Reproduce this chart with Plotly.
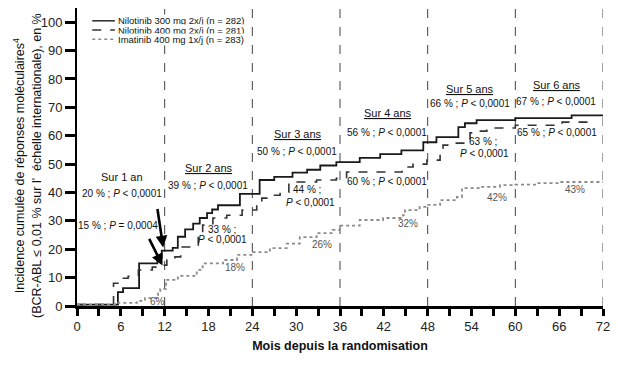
import plotly.graph_objects as go

# ---- data ----
nil300_months = [0, 5.6, 6.3, 8.5, 11.0, 11.6, 13.1, 13.8, 14.8, 15.9, 16.8, 17.8, 18.5, 19.3, 22.3,
                 25.0, 27.0, 29.5, 31.5, 33.3, 35.5, 38.7, 41.5, 44.4, 47.4, 49.2, 52.2, 53.1, 54.7,
                 60.0, 67.7, 72.0]
nil300_values = [0.5, 4.9, 6.3, 15.0, 17.0, 19.5, 20.5, 24.4, 27.0, 29.0, 31.0, 32.7, 34.0, 35.5, 39.5,
                 44.4, 45.5, 47.0, 48.0, 49.5, 50.7, 52.2, 53.5, 54.8, 57.7, 59.5, 63.0, 64.4, 65.5,
                 66.2, 67.2, 67.2]

nil400_months = [0, 5.0, 5.6, 7.0, 8.4, 10.3, 11.1, 12.3, 13.4, 14.2, 16.6, 17.2, 18.6, 20.5, 22.6,
                 24.6, 25.3, 26.4, 27.8, 29.0, 32.8, 35.5, 36.9, 44.5, 46.0, 47.9, 49.7, 50.1, 51.7,
                 53.8, 54.2, 56.1, 60.0, 66.4, 70.5]
nil400_values = [0.5, 8.0, 9.8, 10.5, 12.7, 13.7, 14.4, 16.2, 17.3, 20.8, 24.5, 28.5, 31.0, 32.0, 33.8,
                 36.3, 38.0, 39.0, 40.1, 43.7, 44.4, 45.0, 47.2, 49.0, 50.0, 51.4, 55.6, 56.7, 57.4,
                 61.0, 61.6, 62.7, 63.7, 64.8, 64.8]

ima_months = [0, 5.5, 8.2, 9.3, 11.1, 11.4, 12.2, 13.8, 16.4, 17.2, 20.0, 21.9, 24.1, 26.4, 28.7,
              30.5, 32.8, 35.0, 36.0, 38.7, 41.9, 44.6, 44.9, 46.9, 47.9, 49.7, 52.0, 52.7, 55.2,
              57.9, 60.0, 63.0, 66.0, 72.0]
ima_values = [0.5, 1.1, 1.8, 2.8, 4.9, 6.0, 9.2, 10.6, 12.7, 15.0, 16.2, 18.0, 19.0, 20.4, 22.0,
              24.3, 25.7, 26.8, 28.3, 30.3, 31.0, 32.0, 33.8, 34.9, 35.6, 37.3, 38.4, 41.5, 42.0,
              42.6, 42.8, 43.3, 43.7, 43.7]

series_names = ["Nilotinib 300 mg 2x/j (n = 282)",
                "Nilotinib 400 mg 2x/j (n = 281)",
                "Imatinib 400 mg 1x/j (n = 283)"]

year_lines = [12, 24, 36, 48, 60, 72]
x_ticks = list(range(0, 73, 6))
y_ticks = list(range(0, 101, 10))

FONT = "Liberation Sans, Arial, sans-serif"

styles = [dict(color="#1a1a1a", width=1.8, dash="solid"),
          dict(color="#333333", width=1.6, dash="dash"),
          dict(color="#8a8a8a", width=1.8, dash="dot")]

fig = go.Figure()
for (mx, vy), name, st in zip([(nil300_months, nil300_values),
                                (nil400_months, nil400_values),
                                (ima_months, ima_values)], series_names, styles):
    fig.add_trace(go.Scatter(x=mx, y=vy, mode="lines", name=name, line=st,
                             line_shape="hv", showlegend=False, hoverinfo="skip"))

shapes = []
for xl in year_lines:
    shapes.append(dict(type="line", xref="x", yref="paper", x0=xl, x1=xl, y0=0, y1=1,
                       line=dict(color="#444444", width=1, dash="dash"), layer="below"))

# manual legend
leg_rows = [0.957, 0.926, 0.895]
annotations = []
for name, st, yy in zip(series_names, styles, leg_rows):
    shapes.append(dict(type="line", xref="paper", yref="paper", x0=0.029, x1=0.072, y0=yy, y1=yy,
                       line=dict(color=st["color"], width=1.4, dash=st["dash"])))
    annotations.append(dict(xref="paper", yref="paper", x=0.076, y=yy, text=name, showarrow=False,
                            xanchor="left", yanchor="middle", bgcolor="white", borderpad=0,
                            font=dict(size=9.5, color="#111", family=FONT)))

def txt(x, y, t, size=10, color="#111", underline=False):
    f = dict(size=size, color=color, family=FONT)
    if underline:
        f["lineposition"] = "under"
    annotations.append(dict(x=x, y=y, xref="x", yref="y", text=t, showarrow=False,
                            xanchor="center", yanchor="middle", font=f))

txt(6.16, 45.5, "Sur 1 an", 11)
txt(6.16, 39.8, "20 % ; <i>P</i> < 0,0001")
txt(5.61, 28.2, "15 % ; <i>P</i> = 0,0004")
txt(18.07, 48.6, "Sur 2 ans", 11, underline=True)
txt(17.93, 42.6, "39 % ; <i>P</i> < 0,0001")
txt(19.85, 27.1, "33 % ;")
txt(19.98, 23.3, "<i>P</i> < 0,0001")
txt(21.6, 13.7, "18%", 10, "#555")
txt(10.95, 1.6, "6%", 10, "#555")
txt(30.25, 60.6, "Sur 3 ans", 11, underline=True)
txt(30.1, 54.6, "50 % ; <i>P</i> < 0,0001")
txt(31.5, 40.9, "44 % ;")
txt(31.9, 36.6, "<i>P</i> < 0,0001")
txt(33.5, 21.5, "26%", 10, "#555")
txt(42.57, 68.0, "Sur 4 ans", 11, underline=True)
txt(42.43, 61.0, "56 % ; <i>P</i> < 0,0001")
txt(42.43, 44.0, "60 % ; <i>P</i> < 0,0001")
txt(45.3, 28.9, "32%", 10, "#555")
txt(53.8, 76.5, "Sur 5 ans", 11, underline=True)
txt(53.8, 71.2, "66 % ; <i>P</i> < 0,0001")
txt(55.57, 58.1, "63 % ;")
txt(55.84, 53.9, "<i>P</i> < 0,0001")
txt(57.5, 38.4, "42%", 10, "#555")
txt(65.7, 77.9, "Sur 6 ans", 11, underline=True)
txt(65.56, 72.2, "67 % ; <i>P</i> < 0,0001")
txt(65.7, 61.0, "65 % ; <i>P</i> < 0,0001")
txt(68.2, 41.2, "43%", 10, "#555")

# arrows
annotations.append(dict(x=11.8, y=20.6, xref="x", yref="y", ax=-6, ay=-40, axref="pixel", ayref="pixel",
                        showarrow=True, arrowhead=2, arrowsize=0.9, arrowwidth=2.6, arrowcolor="#000", text=""))
annotations.append(dict(x=11.7, y=14.3, xref="x", yref="y", ax=-14, ay=-28, axref="pixel", ayref="pixel",
                        showarrow=True, arrowhead=2, arrowsize=0.9, arrowwidth=2.6, arrowcolor="#000", text=""))

# y-axis title
annotations.append(dict(xref="paper", yref="paper", x=-0.093, y=0.47, xanchor="center", yanchor="middle",
                        textangle=-90, showarrow=False,
                        text="Incidence cumulée de réponses moléculaires<sup>4</sup><br>(BCR-ABL ≤ 0,01 % sur l'  échelle internationale), en %",
                        font=dict(size=12.5, color="#111", family=FONT)))

fig.update_layout(
    width=618, height=365,
    margin=dict(l=77, r=15, t=8, b=59),
    paper_bgcolor="white", plot_bgcolor="white",
    font=dict(family=FONT, size=13, color="#111"),
    shapes=shapes, annotations=annotations,
    hovermode=False,
    xaxis=dict(range=[0, 72], tickvals=x_ticks, ticks="outside", ticklen=7, tickwidth=2.5,
               tickcolor="#000", showline=True, linewidth=2.5, linecolor="#000", showgrid=False,
               zeroline=False, tickfont=dict(size=13, color="#222"),
               minor=dict(dtick=3, tick0=0, ticks="outside", ticklen=7, tickwidth=2.5, tickcolor="#000"),
               title=dict(text="<b>Mois depuis la randomisation</b>", font=dict(size=12.5, color="#111"),
                          standoff=8)),
    yaxis=dict(range=[0, 105], tickvals=y_ticks, ticks="outside", ticklen=10, tickwidth=2.5,
               tickcolor="#000", showline=True, linewidth=2, linecolor="#000", showgrid=False,
               zeroline=False, tickfont=dict(size=13, color="#222")),
)

fig.write_html("out.html", config={"displayModeBar": False},
               post_script="document.body.style.margin='0';")
